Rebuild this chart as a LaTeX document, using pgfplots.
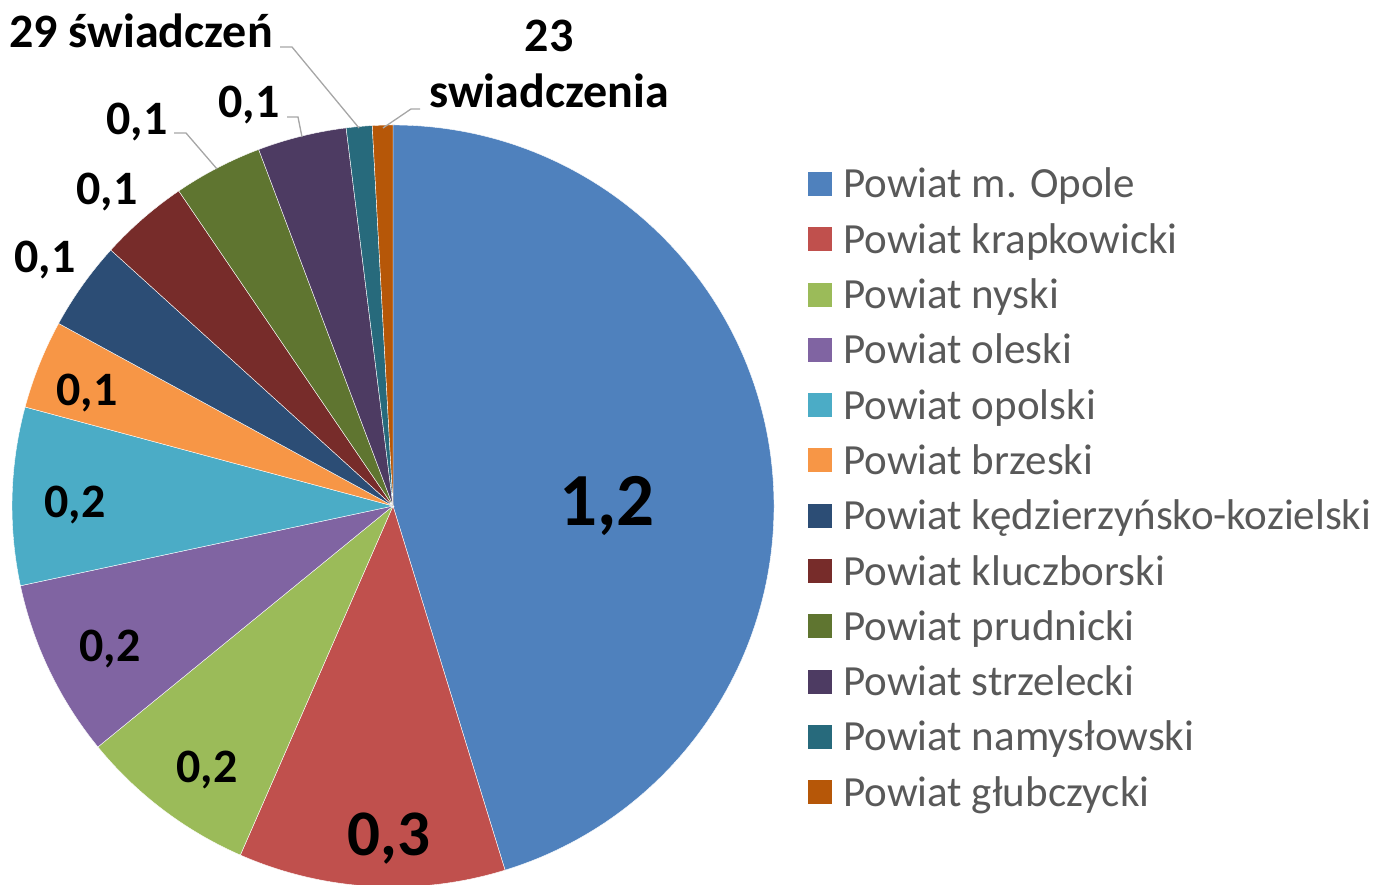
\documentclass[border=0pt]{standalone}
\usepackage{pgfplots}
\pgfplotsset{compat=1.18}
\usepackage{fontspec}
\setmainfont{Carlito}
\definecolor{pc1}{HTML}{4F81BD}
\definecolor{pc2}{HTML}{C0504D}
\definecolor{pc3}{HTML}{9BBB59}
\definecolor{pc4}{HTML}{8064A2}
\definecolor{pc5}{HTML}{4BACC6}
\definecolor{pc6}{HTML}{F79646}
\definecolor{pc7}{HTML}{2C4D75}
\definecolor{pc8}{HTML}{772C2A}
\definecolor{pc9}{HTML}{5F7530}
\definecolor{pc10}{HTML}{4D3B62}
\definecolor{pc11}{HTML}{276A7C}
\definecolor{pc12}{HTML}{B65708}
\definecolor{legtext}{HTML}{595959}
\definecolor{leader}{HTML}{A6A6A6}
% slice values (in the order of the legend, clockwise from 12 o'clock)
\def\pieTotal{2.652}
\def\pieCur{90}
\foreach \v [count=\i] in {1.2,0.3,0.2,0.2,0.2,0.1,0.1,0.1,0.1,0.1,0.029,0.023}{%
  \pgfmathsetmacro\pieEnd{\pieCur-\v/\pieTotal*360}%
  \expandafter\xdef\csname pieA\i\endcsname{\pieCur}%
  \expandafter\xdef\csname pieB\i\endcsname{\pieEnd}%
  \xdef\pieCur{\pieEnd}%
}
\begin{document}
\begin{tikzpicture}[x=1pt,y=1pt]
\path[use as bounding box] (0,0) rectangle (1376,885);
\begin{axis}[at={(0,0)}, anchor=south west, x=1pt, y=1pt,
  xmin=0, xmax=1376, ymin=0, ymax=885, hide axis, clip=false]
\pgfplotsinvokeforeach{1,...,12}{
  \fill[fill=pc#1, draw=white, line width=0.4pt] (axis cs:393,379) -- ++(\csname pieA#1\endcsname:381pt)
    arc[start angle=\csname pieA#1\endcsname, end angle=\csname pieB#1\endcsname, radius=381pt] -- cycle;
}
\end{axis}
% data labels
\node[anchor=base, inner sep=0, font=\bfseries\fontsize{75}{80}\selectfont] at (607,359) {1,2};
\node[anchor=base, inner sep=0, font=\bfseries\fontsize{65}{70}\selectfont] at (389,29) {0,3};
\begin{scope}[every node/.style={anchor=base, inner sep=0, font=\bfseries\fontsize{48}{54}\selectfont}]
\node at (207,102) {0,2};
\node at (110,223) {0,2};
\node at (75,367) {0,2};
\node at (87,479) {0,1};
\node at (45,612) {0,1};
\node at (107,680) {0,1};
\node at (137,750) {0,1};
\node at (249,767) {0,1};
\node at (141,837) {29 świadczeń};
\node at (549,833) {23};
\node at (549,777) {swiadczenia};
\end{scope}
% leader lines
\begin{scope}[leader, line width=1.3pt]
\draw (174,752) -- (186,752) -- (217,716);
\draw (287,768) -- (298,768) -- (302,748);
\draw (280,838) -- (292,838) -- (359,757);
\draw (420,776) -- (411,776) -- (383,757);
\end{scope}
% legend
\foreach \n [count=\i] in {Powiat m. Opole,Powiat krapkowicki,Powiat nyski,Powiat oleski,Powiat opolski,Powiat brzeski,Powiat kędzierzyńsko-kozielski,Powiat kluczborski,Powiat prudnicki,Powiat strzelecki,Powiat namysłowski,Powiat głubczycki}{
  \pgfmathsetmacro\yc{885-184-55.3*(\i-1)}
  \fill[pc\i] (808,\yc-12) rectangle (832,\yc+12);
  \node[anchor=base west, inner sep=0, text=legtext, font=\fontsize{43}{50}\selectfont] at (843,\yc-14) {\n};
}
\end{tikzpicture}
\end{document}
